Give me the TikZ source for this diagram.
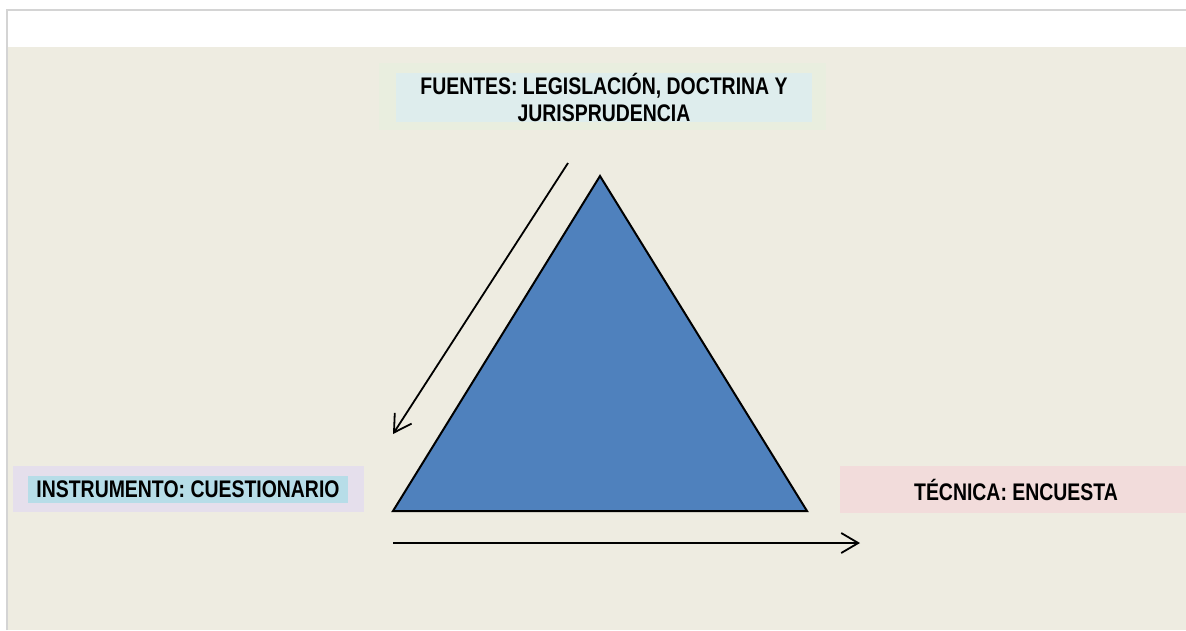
\documentclass[tikz,border=0pt]{standalone}
\usepackage{fontspec}
\setmainfont[FakeStretch=0.81]{Liberation Sans}
\usetikzlibrary{arrows.meta}

\definecolor{fondo}{HTML}{EEECE1}
\definecolor{borde}{HTML}{D4D4D4}
\definecolor{azultri}{HTML}{4F81BD}
\definecolor{verdeclaro}{HTML}{E9EEDF}
\definecolor{celeste}{HTML}{DEEDED}
\definecolor{lila}{HTML}{E5DFEC}
\definecolor{celeste2}{HTML}{B7DDE8}
\definecolor{rosa}{HTML}{F2DCDB}

\begin{document}
\begin{tikzpicture}[x=1pt, y=-1pt,
  caja/.style = {rectangle, inner sep=0pt, draw=none},
  rotulo/.style = {caja, font=\bfseries\fontsize{24}{27.5}\selectfont, align=center},
  flecha/.style = {line width=1.8pt, -{Straight Barb[length=17pt, width=20pt, line width=1.8pt]}}]
  \useasboundingbox (0, 0) rectangle (1186, 630);

  % fondo de la diapositiva
  \fill[white] (0, 0) rectangle (1186, 630);
  \fill[fondo] (7, 47) rectangle (1186, 630);
  \draw[borde, line width=1.5pt] (7, 630)--(7, 10)--(1186, 10);

  % triangulo
  \coordinate (vA) at (600, 176);
  \coordinate (vB) at (393, 511);
  \coordinate (vC) at (807, 511);
  \draw[fill=azultri, line width=2pt, line join=miter] (vA)--(vB)--(vC)--cycle;

  % cuadros de texto
  \node[caja, fill=verdeclaro, minimum width=447, minimum height=67] (fondoF) at (602.5, 96.5) {};
  \node[rotulo, fill=celeste, minimum width=416, minimum height=49] (fuentes) at (604, 97.5)
    {FUENTES: LEGISLACIÓN, DOCTRINA Y\\JURISPRUDENCIA};

  \node[caja, fill=lila, minimum width=351, minimum height=46] (fondoI) at (188.5, 489) {};
  \node[rotulo, fill=celeste2, minimum width=320, minimum height=27] (instrumento) at (188, 489.5)
    {INSTRUMENTO: CUESTIONARIO};

  \node[caja, fill=rosa, minimum width=346, minimum height=47] (fondoT) at (1013, 489.5) {};
  \node[rotulo] (tecnica) at (1016, 489.5) {TÉCNICA: ENCUESTA};

  % flechas
  \coordinate (f1ini) at (568, 163);
  \coordinate (f1fin) at (393, 434);
  \coordinate (f2ini) at (393, 543);
  \coordinate (f2fin) at (860, 543);
  \draw[flecha] (f1ini)--(f1fin);
  \draw[flecha] (f2ini)--(f2fin);
\end{tikzpicture}
\end{document}
